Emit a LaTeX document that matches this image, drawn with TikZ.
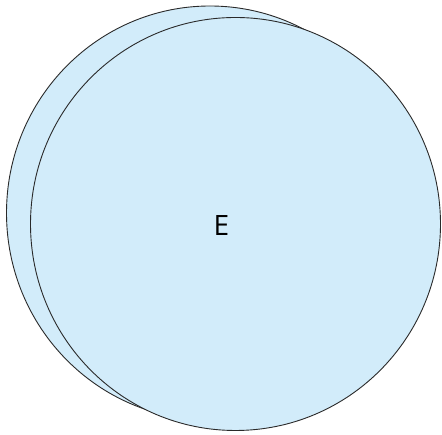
\documentclass[tikz,border=0pt]{standalone}
\usepackage{fontspec}
\setmainfont{Open Sans}
\definecolor{fillblue}{HTML}{D2ECFA}
\definecolor{edge}{HTML}{2A2A2A}
\begin{document}
\begin{tikzpicture}[x=1pt,y=1pt,
  disc/.style={draw=edge,fill=fillblue,line width=0.9pt}]
\useasboundingbox (0,0) rectangle (442,435);
\path[disc] (210,222) ellipse [x radius=203.5, y radius=207] coordinate (back);
\path[disc] (235.5,211) ellipse [x radius=205, y radius=206.5] coordinate (front);
\node[font=\fontsize{28}{32}\selectfont,inner sep=0pt] (lbl) at (221.5,209.5) {E};
\end{tikzpicture}
\end{document}
